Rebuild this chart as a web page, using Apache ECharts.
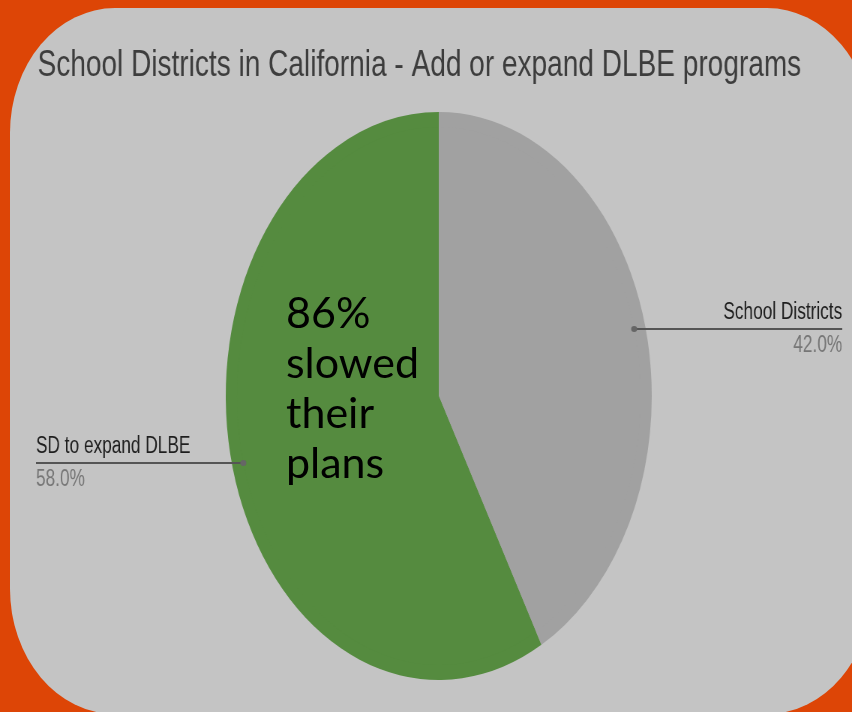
<!DOCTYPE html>
<html>
<head>
<meta charset="utf-8">
<script src="https://cdn.jsdelivr.net/npm/echarts@6/dist/echarts.min.js"></script>
<style>
  html, body { margin: 0; padding: 0; }
  body { width: 852px; height: 712px; background: #dd4506; position: relative; overflow: hidden; }
  #panel {
    position: absolute; left: 10px; top: 8px; width: 862px; height: 706px;
    background: #c4c4c4; border-radius: 105px / 125px;
  }
  /* the original chart is squeezed horizontally (pie drawn as an ellipse) */
  #chart {
    position: absolute; left: 0; top: 0; width: 1136px; height: 712px;
    transform: scaleX(0.75); transform-origin: 0 0;
  }
  #note { position: absolute; left: 0; top: 0; width: 852px; height: 712px; }
</style>
</head>
<body>
<div id="panel"></div>
<div id="chart"></div>
<div id="note"></div>
<script>
const titleText = 'School Districts in California - Add or expand DLBE programs';
const categories = ['School Districts', 'SD to expand DLBE'];
const shares = [42, 58];
const sliceColors = ['#a1a1a1', '#558b3f'];
const noteText = ['86%', 'slowed', 'their', 'plans'];

const SQUEEZE = 0.75;
const labelEdge = [13, 48];   // distance of each label from the chart side
const pieData = categories.map((name, i) => ({
  name,
  value: shares[i],
  itemStyle: { color: sliceColors[i] },
  label: { edgeDistance: labelEdge[i] }
}));

const chart = echarts.init(document.getElementById('chart'), null, { renderer: 'canvas' });
const dotPoints = [];
const font = 'Liberation Sans, Arial, sans-serif';

const option = {
  animation: false,
  backgroundColor: 'transparent',
  title: {
    text: titleText,
    left: 45,
    top: 42,
    textStyle: {
      fontFamily: font,
      fontSize: 37.4,
      fontWeight: 'normal',
      color: '#3d3d3d'
    }
  },
  series: [
    {
      type: 'pie',
      center: [585, 396],
      radius: 284,
      startAngle: 90,
      silent: true,
      z: 2,
      label: { show: false },
      labelLine: { show: false },
      data: pieData
    },
    {
      // label-only ring, leader lines start just inside the slice edge
      type: 'pie',
      center: [585, 396],
      radius: 269,
      startAngle: 90,
      silent: true,
      z: 5,
      itemStyle: { color: 'rgba(0,0,0,0)' },
      label: {
        show: true,
        position: 'outside',
        alignTo: 'edge',
        formatter: p => `{n|${p.name}}\n{p|${p.percent.toFixed(1)}%}`,
        rich: {
          n: { fontFamily: font, fontSize: 23, color: '#1e1e1e', lineHeight: 33 },
          p: { fontFamily: font, fontSize: 23, color: '#767676', lineHeight: 33 }
        }
      },
      labelLine: {
        show: true,
        length: 0,
        length2: 10,
        lineStyle: { color: '#555555', width: 2 }
      },
      labelLayout: params => {
        const pts = params.labelLinePoints;
        const r = params.labelRect;
        if (!pts) return {};
        const start = pts[0];
        dotPoints[params.dataIndex] = start;
        const right = start[0] > 585;
        const endX = right ? r.x + r.width : r.x;
        return { labelLinePoints: [start, start, [endX, start[1]]] };
      },
      data: pieData
    }
  ]
};

chart.setOption(option);

// little dots where the leader lines touch the slices
chart.setOption({
  graphic: dotPoints.map(p => ({
    type: 'circle',
    x: p[0], y: p[1],
    scaleX: 1 / SQUEEZE,
    shape: { cx: 0, cy: 0, r: 3 },
    style: { fill: '#666666' },
    z: 10
  }))
});

const note = echarts.init(document.getElementById('note'), null, { renderer: 'canvas' });
note.setOption({
  animation: false,
  backgroundColor: 'transparent',
  title: {
    text: noteText.join('\n'),
    left: 281,
    top: 284,
    textStyle: {
      fontFamily: 'Lato, sans-serif',
      fontSize: 43,
      fontWeight: 'normal',
      lineHeight: 50,
      color: '#000000'
    }
  }
});
</script>
</body>
</html>
